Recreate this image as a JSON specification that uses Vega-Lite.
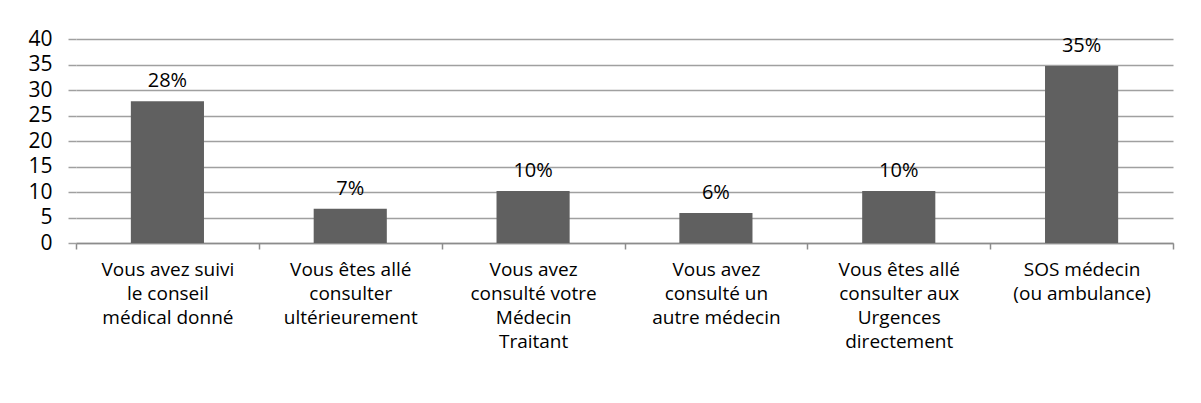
{
  "$schema": "https://vega.github.io/schema/vega-lite/v6.json",
  "autosize": "none",
  "width": 1097,
  "height": 204,
  "padding": {"left": 76, "top": 39, "right": 28, "bottom": 160},
  "background": "white",
  "config": {
    "view": {"stroke": null},
    "font": "Open Sans"
  },
  "data": {
    "values": [
      {"cat": "Vous avez suivi|le conseil|médical donné", "value": 27.8, "label": "28%"},
      {"cat": "Vous êtes allé|consulter|ultérieurement", "value": 6.7, "label": "7%"},
      {"cat": "Vous avez|consulté votre|Médecin|Traitant", "value": 10.2, "label": "10%"},
      {"cat": "Vous avez|consulté un|autre médecin", "value": 5.9, "label": "6%"},
      {"cat": "Vous êtes allé|consulter aux|Urgences|directement", "value": 10.2, "label": "10%"},
      {"cat": "SOS médecin|(ou ambulance)", "value": 34.7, "label": "35%"}
    ]
  },
  "encoding": {
    "x": {
      "field": "cat", "type": "nominal", "sort": null,
      "scale": {"paddingInner": 0, "paddingOuter": 0},
      "axis": {
        "title": null, "labelAngle": 0,
        "labelExpr": "split(datum.label, '|')",
        "labelFont": "Open Sans", "labelFontSize": 19, "labelColor": "black",
        "labelLineHeight": 24, "labelPadding": 11, "labelLimit": 300,
        "tickBand": "extent", "tickSize": 6, "tickColor": "#8c8c8c", "tickWidth": 1.5,
        "domainColor": "#8c8c8c", "domainWidth": 1.5
      }
    },
    "y": {
      "field": "value", "type": "quantitative",
      "scale": {"domain": [0, 40]},
      "axis": {
        "title": null, "values": [0,5,10,15,20,25,30,35,40],
        "domain": false, "tickSize": 8, "tickColor": "#a0a0a0", "tickWidth": 1.5,
        "gridColor": "#a0a0a0", "gridWidth": 1.5,
        "labelFont": "Open Sans", "labelFontSize": 21, "labelColor": "black", "labelPadding": 16
      }
    }
  },
  "layer": [
    {"mark": {"type": "bar", "color": "#606060", "width": {"band": 0.4}}},
    {"mark": {"type": "text", "baseline": "bottom", "dy": -10, "fontSize": 20, "color": "black", "font": "Open Sans"},
     "encoding": {"text": {"field": "label"}}}
  ]
}
